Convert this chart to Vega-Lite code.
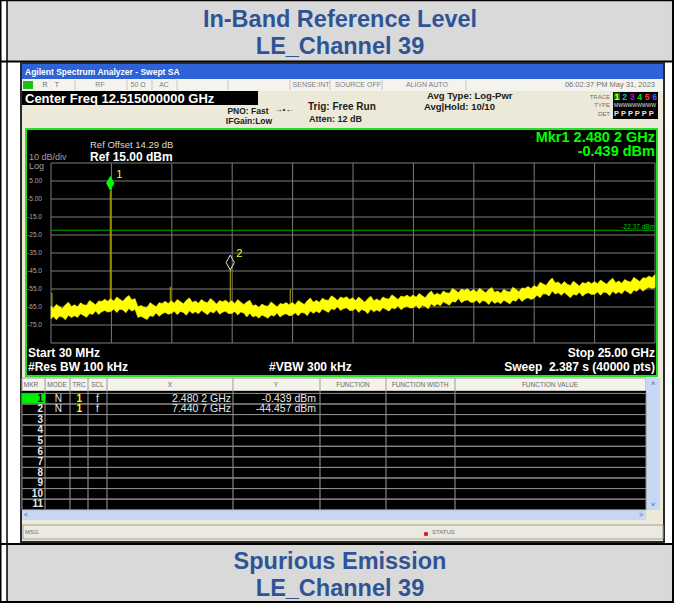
{
"$schema":"https://vega.github.io/schema/vega-lite/v6.json",
"width":604,"height":180,
"autosize":{"type":"none"},
"padding":{"left":51,"top":163,"right":19,"bottom":260},
"background":"#ffffff",
"config":{"view":{"stroke":null},"font":"Liberation Sans","axisX":{"disable":true},"text":{"baseline":"middle","font":"Liberation Sans"}},
"datasets":{
"trace":[
{"f":0.03,"lo":-71.6,"hi":-64.5},{"f":0.125,"lo":-70.3,"hi":-65.8},{"f":0.25,"lo":-72.1,"hi":-63.6},{"f":0.375,"lo":-70.2,"hi":-64.7},{"f":0.5,"lo":-70.6,"hi":-65.8},{"f":0.625,"lo":-72.1,"hi":-63.8},{"f":0.75,"lo":-69.6,"hi":-62.4},{"f":0.875,"lo":-70.9,"hi":-64.7},{"f":1.0,"lo":-69.8,"hi":-63.8},{"f":1.125,"lo":-70.8,"hi":-64.9},
{"f":1.25,"lo":-68.7,"hi":-62.7},{"f":1.375,"lo":-69.7,"hi":-63.7},{"f":1.5,"lo":-70.7,"hi":-64.0},{"f":1.625,"lo":-68.6,"hi":-61.4},{"f":1.75,"lo":-69.1,"hi":-62.5},{"f":1.875,"lo":-67.2,"hi":-63.8},{"f":2.0,"lo":-69.2,"hi":-61.6},{"f":2.125,"lo":-67.7,"hi":-61.9},{"f":2.25,"lo":-66.9,"hi":-60.7},{"f":2.375,"lo":-67.8,"hi":-61.8},
{"f":2.5,"lo":-67.5,"hi":-60.4},{"f":2.625,"lo":-66.2,"hi":-61.7},{"f":2.75,"lo":-68.0,"hi":-59.5},{"f":2.875,"lo":-66.2,"hi":-60.7},{"f":3.0,"lo":-66.6,"hi":-61.8},{"f":3.125,"lo":-68.2,"hi":-59.9},{"f":3.25,"lo":-65.8,"hi":-58.6},{"f":3.375,"lo":-67.3,"hi":-61.1},{"f":3.5,"lo":-66.3,"hi":-60.3},{"f":3.625,"lo":-70.8,"hi":-64.9},
{"f":3.75,"lo":-70.1,"hi":-64.1},{"f":3.875,"lo":-71.1,"hi":-65.1},{"f":4.0,"lo":-72.0,"hi":-65.3},{"f":4.125,"lo":-69.8,"hi":-62.6},{"f":4.25,"lo":-70.3,"hi":-63.7},{"f":4.375,"lo":-68.3,"hi":-64.9},{"f":4.5,"lo":-70.2,"hi":-62.6},{"f":4.625,"lo":-68.8,"hi":-63.0},{"f":4.75,"lo":-68.0,"hi":-61.8},{"f":4.875,"lo":-69.0,"hi":-63.0},
{"f":5.0,"lo":-68.6,"hi":-61.5},{"f":5.125,"lo":-67.4,"hi":-62.9},{"f":5.25,"lo":-69.3,"hi":-60.8},{"f":5.375,"lo":-67.5,"hi":-62.0},{"f":5.5,"lo":-68.0,"hi":-63.2},{"f":5.625,"lo":-69.6,"hi":-61.3},{"f":5.75,"lo":-67.1,"hi":-59.9},{"f":5.875,"lo":-68.6,"hi":-62.4},{"f":6.0,"lo":-67.6,"hi":-61.6},{"f":6.125,"lo":-68.8,"hi":-62.9},
{"f":6.25,"lo":-66.9,"hi":-60.9},{"f":6.375,"lo":-68.1,"hi":-62.1},{"f":6.5,"lo":-69.3,"hi":-62.6},{"f":6.625,"lo":-67.5,"hi":-60.3},{"f":6.75,"lo":-68.3,"hi":-61.7},{"f":6.875,"lo":-66.7,"hi":-63.3},{"f":7.0,"lo":-69.0,"hi":-61.4},{"f":7.125,"lo":-67.9,"hi":-62.1},{"f":7.25,"lo":-67.4,"hi":-61.2},{"f":7.375,"lo":-68.7,"hi":-62.7},
{"f":7.5,"lo":-68.6,"hi":-61.5},{"f":7.625,"lo":-67.5,"hi":-63.0},{"f":7.75,"lo":-69.4,"hi":-60.9},{"f":7.875,"lo":-67.8,"hi":-62.3},{"f":8.0,"lo":-68.4,"hi":-63.6},{"f":8.125,"lo":-70.5,"hi":-62.2},{"f":8.25,"lo":-68.5,"hi":-61.3},{"f":8.375,"lo":-70.5,"hi":-64.3},{"f":8.5,"lo":-69.8,"hi":-63.8},{"f":8.625,"lo":-71.2,"hi":-65.3},
{"f":8.75,"lo":-69.4,"hi":-63.4},{"f":8.875,"lo":-70.3,"hi":-64.3},{"f":9.0,"lo":-71.3,"hi":-64.6},{"f":9.125,"lo":-69.4,"hi":-62.2},{"f":9.25,"lo":-70.1,"hi":-63.5},{"f":9.375,"lo":-68.4,"hi":-65.0},{"f":9.5,"lo":-70.6,"hi":-63.0},{"f":9.625,"lo":-69.3,"hi":-63.5},{"f":9.75,"lo":-68.7,"hi":-62.5},{"f":9.875,"lo":-69.8,"hi":-63.8},
{"f":10.0,"lo":-69.6,"hi":-62.5},{"f":10.125,"lo":-68.2,"hi":-63.7},{"f":10.25,"lo":-69.9,"hi":-61.4},{"f":10.375,"lo":-68.0,"hi":-62.5},{"f":10.5,"lo":-68.4,"hi":-63.6},{"f":10.625,"lo":-69.8,"hi":-61.5},{"f":10.75,"lo":-67.2,"hi":-60.0},{"f":10.875,"lo":-68.5,"hi":-62.3},{"f":11.0,"lo":-67.3,"hi":-61.3},{"f":11.125,"lo":-68.3,"hi":-62.4},
{"f":11.25,"lo":-66.1,"hi":-60.1},{"f":11.375,"lo":-67.1,"hi":-61.1},{"f":11.5,"lo":-68.0,"hi":-61.3},{"f":11.625,"lo":-66.0,"hi":-58.8},{"f":11.75,"lo":-66.5,"hi":-59.9},{"f":11.875,"lo":-64.8,"hi":-61.4},{"f":12.0,"lo":-67.0,"hi":-59.4},{"f":12.125,"lo":-65.9,"hi":-60.1},{"f":12.25,"lo":-65.5,"hi":-59.3},{"f":12.375,"lo":-66.9,"hi":-60.9},
{"f":12.5,"lo":-66.9,"hi":-59.8},{"f":12.625,"lo":-65.9,"hi":-61.4},{"f":12.75,"lo":-68.0,"hi":-59.5},{"f":12.875,"lo":-66.4,"hi":-60.9},{"f":13.0,"lo":-67.1,"hi":-62.3},{"f":13.125,"lo":-68.7,"hi":-60.4},{"f":13.25,"lo":-66.2,"hi":-59.0},{"f":13.375,"lo":-67.7,"hi":-61.5},{"f":13.5,"lo":-66.6,"hi":-60.6},{"f":13.625,"lo":-67.5,"hi":-61.6},
{"f":13.75,"lo":-65.4,"hi":-59.4},{"f":13.875,"lo":-66.3,"hi":-60.3},{"f":14.0,"lo":-67.3,"hi":-60.6},{"f":14.125,"lo":-65.4,"hi":-58.2},{"f":14.25,"lo":-66.1,"hi":-59.5},{"f":14.375,"lo":-64.3,"hi":-60.9},{"f":14.5,"lo":-66.5,"hi":-58.9},{"f":14.625,"lo":-65.2,"hi":-59.4},{"f":14.75,"lo":-64.6,"hi":-58.4},{"f":14.875,"lo":-65.6,"hi":-59.6},
{"f":15.0,"lo":-65.4,"hi":-58.3},{"f":15.125,"lo":-64.1,"hi":-59.6},{"f":15.25,"lo":-66.0,"hi":-57.5},{"f":15.375,"lo":-64.2,"hi":-58.7},{"f":15.5,"lo":-64.6,"hi":-59.8},{"f":15.625,"lo":-66.0,"hi":-57.7},{"f":15.75,"lo":-63.3,"hi":-56.1},{"f":15.875,"lo":-64.6,"hi":-58.4},{"f":16.0,"lo":-63.3,"hi":-57.3},{"f":16.125,"lo":-64.3,"hi":-58.4},
{"f":16.25,"lo":-62.1,"hi":-56.1},{"f":16.375,"lo":-63.1,"hi":-57.1},{"f":16.5,"lo":-64.0,"hi":-57.3},{"f":16.625,"lo":-61.9,"hi":-54.7},{"f":16.75,"lo":-62.3,"hi":-55.7},{"f":16.875,"lo":-60.3,"hi":-56.9},{"f":17.0,"lo":-62.6,"hi":-55.0},{"f":17.125,"lo":-61.5,"hi":-55.7},{"f":17.25,"lo":-61.1,"hi":-54.9},{"f":17.375,"lo":-62.4,"hi":-56.4},
{"f":17.5,"lo":-62.4,"hi":-55.3},{"f":17.625,"lo":-61.2,"hi":-56.7},{"f":17.75,"lo":-63.1,"hi":-54.6},{"f":17.875,"lo":-61.4,"hi":-55.9},{"f":18.0,"lo":-61.9,"hi":-57.1},{"f":18.125,"lo":-63.6,"hi":-55.3},{"f":18.25,"lo":-61.4,"hi":-54.2},{"f":18.375,"lo":-63.0,"hi":-56.8},{"f":18.5,"lo":-62.1,"hi":-56.1},{"f":18.625,"lo":-63.2,"hi":-57.3},
{"f":18.75,"lo":-61.2,"hi":-55.2},{"f":18.875,"lo":-62.2,"hi":-56.2},{"f":19.0,"lo":-63.3,"hi":-56.6},{"f":19.125,"lo":-61.2,"hi":-54.0},{"f":19.25,"lo":-61.8,"hi":-55.2},{"f":19.375,"lo":-59.9,"hi":-56.5},{"f":19.5,"lo":-62.0,"hi":-54.4},{"f":19.625,"lo":-60.5,"hi":-54.7},{"f":19.75,"lo":-59.8,"hi":-53.6},{"f":19.875,"lo":-60.8,"hi":-54.8},
{"f":20.0,"lo":-60.2,"hi":-53.1},{"f":20.125,"lo":-58.5,"hi":-54.0},{"f":20.25,"lo":-59.8,"hi":-51.3},{"f":20.375,"lo":-57.7,"hi":-52.2},{"f":20.5,"lo":-57.8,"hi":-53.0},{"f":20.625,"lo":-58.9,"hi":-50.6},{"f":20.75,"lo":-56.1,"hi":-48.9},{"f":20.875,"lo":-57.8,"hi":-51.6},{"f":21.0,"lo":-57.1,"hi":-51.1},{"f":21.125,"lo":-58.5,"hi":-52.6},
{"f":21.25,"lo":-56.9,"hi":-50.9},{"f":21.375,"lo":-58.3,"hi":-52.3},{"f":21.5,"lo":-59.8,"hi":-53.1},{"f":21.625,"lo":-57.9,"hi":-50.7},{"f":21.75,"lo":-58.5,"hi":-51.9},{"f":21.875,"lo":-56.8,"hi":-53.4},{"f":22.0,"lo":-59.0,"hi":-51.4},{"f":22.125,"lo":-57.7,"hi":-51.9},{"f":22.25,"lo":-57.1,"hi":-50.9},{"f":22.375,"lo":-58.1,"hi":-52.1},
{"f":22.5,"lo":-57.9,"hi":-50.8},{"f":22.625,"lo":-56.6,"hi":-52.1},{"f":22.75,"lo":-58.5,"hi":-50.0},{"f":22.875,"lo":-56.7,"hi":-51.2},{"f":23.0,"lo":-57.1,"hi":-52.3},{"f":23.125,"lo":-58.7,"hi":-50.4},{"f":23.25,"lo":-56.2,"hi":-49.0},{"f":23.375,"lo":-57.7,"hi":-51.5},{"f":23.5,"lo":-56.6,"hi":-50.6},{"f":23.625,"lo":-57.7,"hi":-51.8},
{"f":23.75,"lo":-55.7,"hi":-49.7},{"f":23.875,"lo":-56.7,"hi":-50.7},{"f":24.0,"lo":-57.8,"hi":-51.1},{"f":24.125,"lo":-55.7,"hi":-48.5},{"f":24.25,"lo":-56.3,"hi":-49.7},{"f":24.375,"lo":-54.3,"hi":-50.9},{"f":24.5,"lo":-56.3,"hi":-48.7},{"f":24.625,"lo":-54.8,"hi":-49.0},{"f":24.75,"lo":-54.0,"hi":-47.8},{"f":24.875,"lo":-54.7,"hi":-48.7},
{"f":25.0,"lo":-54.1,"hi":-47.0}
],
"spikes":[{"f":0.07,"base":-68,"peak":-57.2},{"f":2.4802,"base":-64,"peak":-0.439},{"f":4.96,"base":-65,"peak":-53.7},{"f":7.4407,"base":-65,"peak":-44.457},{"f":9.92,"base":-66,"peak":-55.2}],
"markers":[{"mkr":"1","f":2.4802,"y":-0.439},{"mkr":"2","f":7.4407,"y":-44.457}],
"gridx":[{"v":0.03},{"v":2.527},{"v":5.024},{"v":7.521},{"v":10.018},{"v":12.515},{"v":15.012},{"v":17.509},{"v":20.006},{"v":22.503},{"v":25.0}],
"gridy":[{"v":15},{"v":5},{"v":-5},{"v":-15},{"v":-25},{"v":-35},{"v":-45},{"v":-55},{"v":-65},{"v":-75},{"v":-85}],
"ylab":[{"v":5,"label":"5.00"},{"v":-5,"label":"-5.00"},{"v":-15,"label":"-15.0"},{"v":-25,"label":"-25.0"},{"v":-35,"label":"-35.0"},{"v":-45,"label":"-45.0"},{"v":-55,"label":"-55.0"},{"v":-65,"label":"-65.0"},{"v":-75,"label":"-75.0"}],
"ssep":[{"v":1.022},{"v":3.172},{"v":4.205},{"v":5.239},{"v":7.347},{"v":9.91},{"v":11.564},{"v":13.714},{"v":17.186}],
"tcol":[{"v":-0.218},{"v":0.815},{"v":1.56},{"v":2.345},{"v":7.554},{"v":11.151},{"v":13.879},{"v":16.732}],
"rows":[{"mkr":1,"mode":"N","trc":"1","scl":"f","xv":"2.480 2 GHz","yv":"-0.439 dBm"},{"mkr":2,"mode":"N","trc":"1","scl":"f","xv":"7.440 7 GHz","yv":"-44.457 dBm"},{"mkr":3},{"mkr":4},{"mkr":5},{"mkr":6},{"mkr":7},{"mkr":8},{"mkr":9},{"mkr":10},{"mkr":11}]
},
"resolve":{"scale":{"y":"independent"}},
"layer":[
{"layer":[
{"data":{"values":[{}]},"mark":{"type":"rect","fill":"#d9d9d9"},"encoding":{"x":{"datum":-1.789,"type":"quantitative","scale":{"domain":[0.03,25],"nice":false,"zero":false}},"x2":{"datum":25.703},"y":{"datum":105.556,"type":"quantitative","scale":{"domain":[-85,15],"nice":false,"zero":false},"axis":null},"y2":{"datum":71.667}}},
{"data":{"values":[{}]},"mark":{"type":"rect","fill":"#d9d9d9"},"encoding":{"x":{"datum":-1.789,"type":"quantitative"},"x2":{"datum":25.703},"y":{"datum":-197.222,"type":"quantitative","axis":null},"y2":{"datum":-229.444}}},
{"data":{"values":[{}]},"mark":{"type":"rule","color":"#000000","strokeWidth":1.5},"encoding":{"x":{"datum":-2.078,"type":"quantitative"},"x2":{"datum":25.785},"y":{"datum":105.278,"type":"quantitative","axis":null}}},
{"data":{"values":[{}]},"mark":{"type":"rule","color":"#000000","strokeWidth":2},"encoding":{"x":{"datum":-2.078,"type":"quantitative"},"x2":{"datum":25.785},"y":{"datum":71.389,"type":"quantitative","axis":null}}},
{"data":{"values":[{}]},"mark":{"type":"rule","color":"#000000","strokeWidth":2},"encoding":{"x":{"datum":-2.078,"type":"quantitative"},"x2":{"datum":25.785},"y":{"datum":-196.667,"type":"quantitative","axis":null}}},
{"data":{"values":[{}]},"mark":{"type":"rule","color":"#000000","strokeWidth":2},"encoding":{"x":{"datum":-2.078,"type":"quantitative"},"x2":{"datum":25.785},"y":{"datum":-228.889,"type":"quantitative","axis":null}}},
{"data":{"values":[{}]},"mark":{"type":"rule","color":"#000000","strokeWidth":1.5},"encoding":{"x":{"datum":-2.047,"type":"quantitative"},"y":{"datum":105.556,"type":"quantitative","axis":null},"y2":{"datum":-229.444}}},
{"data":{"values":[{}]},"mark":{"type":"rule","color":"#000000","strokeWidth":1.5},"encoding":{"x":{"datum":-1.789,"type":"quantitative"},"y":{"datum":105.556,"type":"quantitative","axis":null},"y2":{"datum":-229.444}}},
{"data":{"values":[{}]},"mark":{"type":"rule","color":"#000000","strokeWidth":2},"encoding":{"x":{"datum":25.744,"type":"quantitative"},"y":{"datum":105.556,"type":"quantitative","axis":null},"y2":{"datum":-229.444}}},
{"data":{"values":[{}]},"mark":{"type":"text","text":"In-Band Reference Level","align":"center","fontSize":23.5,"fontWeight":"bold","color":"#2f5496"},"encoding":{"x":{"datum":11.978,"type":"quantitative"},"y":{"datum":94.722,"type":"quantitative","axis":null}}},
{"data":{"values":[{}]},"mark":{"type":"text","text":"LE_Channel 39","align":"center","fontSize":23.5,"fontWeight":"bold","color":"#2f5496"},"encoding":{"x":{"datum":11.978,"type":"quantitative"},"y":{"datum":79.722,"type":"quantitative","axis":null}}},
{"data":{"values":[{}]},"mark":{"type":"text","text":"Spurious Emission","align":"center","fontSize":23.5,"fontWeight":"bold","color":"#2f5496"},"encoding":{"x":{"datum":11.978,"type":"quantitative"},"y":{"datum":-206.389,"type":"quantitative","axis":null}}},
{"data":{"values":[{}]},"mark":{"type":"text","text":"LE_Channel 39","align":"center","fontSize":23.5,"fontWeight":"bold","color":"#2f5496"},"encoding":{"x":{"datum":11.978,"type":"quantitative"},"y":{"datum":-221.389,"type":"quantitative","axis":null}}},
{"data":{"values":[{}]},"mark":{"type":"rect","fill":"#ece9d8","stroke":"#2a2a2a","strokeWidth":2},"encoding":{"x":{"datum":-1.21,"type":"quantitative"},"x2":{"datum":25.372},"y":{"datum":70.556,"type":"quantitative","axis":null},"y2":{"datum":-195.556}}},
{"data":{"values":[{}]},"mark":{"type":"rect","fill":"#2d62d8"},"encoding":{"x":{"datum":-1.169,"type":"quantitative"},"x2":{"datum":25.331},"y":{"datum":70.0,"type":"quantitative","axis":null},"y2":{"datum":61.667}}},
{"data":{"values":[{}]},"mark":{"type":"text","text":"Agilent Spectrum Analyzer - Swept SA","align":"left","fontSize":8.5,"fontWeight":"bold","color":"#ffffff"},"encoding":{"x":{"datum":-1.045,"type":"quantitative"},"y":{"datum":65.278,"type":"quantitative","axis":null}}},
{"data":{"values":[{}]},"mark":{"type":"rect","fill":"#f4f3ee"},"encoding":{"x":{"datum":-1.169,"type":"quantitative"},"x2":{"datum":25.331},"y":{"datum":61.667,"type":"quantitative","axis":null},"y2":{"datum":55.0}}},
{"data":{"name":"ssep"},"mark":{"type":"rule","color":"#c4c4c4","strokeWidth":1},"encoding":{"x":{"field":"v","type":"quantitative"},"y":{"datum":61.111,"type":"quantitative","axis":null},"y2":{"datum":55.556}}},
{"data":{"values":[{}]},"mark":{"type":"rect","fill":"#18c018"},"encoding":{"x":{"datum":-1.128,"type":"quantitative"},"x2":{"datum":-0.714},"y":{"datum":60.556,"type":"quantitative","axis":null},"y2":{"datum":56.111}}},
{"data":{"values":[{}]},"mark":{"type":"text","text":"R","align":"center","fontSize":7,"color":"#707070"},"encoding":{"x":{"datum":-0.218,"type":"quantitative"},"y":{"datum":58.056,"type":"quantitative","axis":null}}},
{"data":{"values":[{}]},"mark":{"type":"text","text":"T","align":"center","fontSize":7,"color":"#707070"},"encoding":{"x":{"datum":0.278,"type":"quantitative"},"y":{"datum":58.056,"type":"quantitative","axis":null}}},
{"data":{"values":[{}]},"mark":{"type":"text","text":"RF","align":"center","fontSize":7,"color":"#808080"},"encoding":{"x":{"datum":2.056,"type":"quantitative"},"y":{"datum":58.056,"type":"quantitative","axis":null}}},
{"data":{"values":[{}]},"mark":{"type":"text","text":"50 Ω","align":"center","fontSize":7,"color":"#808080"},"encoding":{"x":{"datum":3.627,"type":"quantitative"},"y":{"datum":58.056,"type":"quantitative","axis":null}}},
{"data":{"values":[{}]},"mark":{"type":"text","text":"AC","align":"center","fontSize":7,"color":"#808080"},"encoding":{"x":{"datum":4.702,"type":"quantitative"},"y":{"datum":58.056,"type":"quantitative","axis":null}}},
{"data":{"values":[{}]},"mark":{"type":"text","text":"SENSE:INT","align":"center","fontSize":7,"color":"#808080"},"encoding":{"x":{"datum":10.779,"type":"quantitative"},"y":{"datum":58.056,"type":"quantitative","axis":null}}},
{"data":{"values":[{}]},"mark":{"type":"text","text":"SOURCE OFF","align":"center","fontSize":7,"color":"#808080"},"encoding":{"x":{"datum":12.722,"type":"quantitative"},"y":{"datum":58.056,"type":"quantitative","axis":null}}},
{"data":{"values":[{}]},"mark":{"type":"text","text":"ALIGN AUTO","align":"center","fontSize":7,"color":"#808080"},"encoding":{"x":{"datum":15.574,"type":"quantitative"},"y":{"datum":58.056,"type":"quantitative","axis":null}}},
{"data":{"values":[{}]},"mark":{"type":"text","text":"06:02:37 PM May 31, 2023","align":"right","fontSize":7.5,"color":"#707070"},"encoding":{"x":{"datum":25.0,"type":"quantitative"},"y":{"datum":58.056,"type":"quantitative","axis":null}}},
{"data":{"values":[{}]},"mark":{"type":"rect","fill":"#000000"},"encoding":{"x":{"datum":-1.169,"type":"quantitative"},"x2":{"datum":8.588},"y":{"datum":55.0,"type":"quantitative","axis":null},"y2":{"datum":47.222}}},
{"data":{"values":[{}]},"mark":{"type":"text","text":"Center Freq 12.515000000 GHz","align":"left","fontSize":13,"fontWeight":"bold","color":"#ffffff"},"encoding":{"x":{"datum":-1.045,"type":"quantitative"},"y":{"datum":50.833,"type":"quantitative","axis":null}}},
{"data":{"values":[{}]},"mark":{"type":"text","text":"PNO: Fast","align":"center","fontSize":8.5,"fontWeight":"bold","color":"#202020"},"encoding":{"x":{"datum":8.174,"type":"quantitative"},"y":{"datum":43.889,"type":"quantitative","axis":null}}},
{"data":{"values":[{}]},"mark":{"type":"text","text":"IFGain:Low","align":"center","fontSize":8.5,"fontWeight":"bold","color":"#202020"},"encoding":{"x":{"datum":8.216,"type":"quantitative"},"y":{"datum":38.611,"type":"quantitative","axis":null}}},
{"data":{"values":[{}]},"mark":{"type":"text","text":"→•←","align":"center","fontSize":8,"color":"#202020"},"encoding":{"x":{"datum":9.662,"type":"quantitative"},"y":{"datum":44.167,"type":"quantitative","axis":null}}},
{"data":{"values":[{}]},"mark":{"type":"text","text":"Trig: Free Run","align":"left","fontSize":10,"fontWeight":"bold","color":"#202020"},"encoding":{"x":{"datum":10.655,"type":"quantitative"},"y":{"datum":46.111,"type":"quantitative","axis":null}}},
{"data":{"values":[{}]},"mark":{"type":"text","text":"Atten: 12 dB","align":"left","fontSize":9,"fontWeight":"bold","color":"#202020"},"encoding":{"x":{"datum":10.696,"type":"quantitative"},"y":{"datum":39.444,"type":"quantitative","axis":null}}},
{"data":{"values":[{}]},"mark":{"type":"text","text":"Avg Type: Log-Pwr","align":"left","fontSize":9.5,"fontWeight":"bold","color":"#202020"},"encoding":{"x":{"datum":15.574,"type":"quantitative"},"y":{"datum":52.5,"type":"quantitative","axis":null}}},
{"data":{"values":[{}]},"mark":{"type":"text","text":"Avg|Hold: 10/10","align":"left","fontSize":9.5,"fontWeight":"bold","color":"#202020"},"encoding":{"x":{"datum":15.45,"type":"quantitative"},"y":{"datum":46.111,"type":"quantitative","axis":null}}},
{"data":{"values":[{}]},"mark":{"type":"rect","fill":"#000000"},"encoding":{"x":{"datum":23.263,"type":"quantitative"},"x2":{"datum":25.124},"y":{"datum":54.444,"type":"quantitative","axis":null},"y2":{"datum":39.444}}},
{"data":{"values":[{}]},"mark":{"type":"rect","fill":"#0a7a0a"},"encoding":{"x":{"datum":23.305,"type":"quantitative"},"x2":{"datum":23.553},"y":{"datum":54.167,"type":"quantitative","axis":null},"y2":{"datum":50.0}}},
{"data":{"values":[{}]},"mark":{"type":"text","text":"TRACE","align":"right","fontSize":6,"color":"#707070"},"encoding":{"x":{"datum":23.14,"type":"quantitative"},"y":{"datum":51.944,"type":"quantitative","axis":null}}},
{"data":{"values":[{}]},"mark":{"type":"text","text":"TYPE","align":"right","fontSize":6,"color":"#707070"},"encoding":{"x":{"datum":23.14,"type":"quantitative"},"y":{"datum":47.222,"type":"quantitative","axis":null}}},
{"data":{"values":[{}]},"mark":{"type":"text","text":"DET","align":"right","fontSize":6,"color":"#707070"},"encoding":{"x":{"datum":23.14,"type":"quantitative"},"y":{"datum":42.5,"type":"quantitative","axis":null}}},
{"data":{"values":[{}]},"mark":{"type":"text","text":"1","align":"center","fontSize":8.5,"fontWeight":"bold","color":"#ffff00"},"encoding":{"x":{"datum":23.428,"type":"quantitative"},"y":{"datum":51.944,"type":"quantitative","axis":null}}},
{"data":{"values":[{}]},"mark":{"type":"text","text":"2","align":"center","fontSize":8.5,"fontWeight":"bold","color":"#00c8c8"},"encoding":{"x":{"datum":23.739,"type":"quantitative"},"y":{"datum":51.944,"type":"quantitative","axis":null}}},
{"data":{"values":[{}]},"mark":{"type":"text","text":"3","align":"center","fontSize":8.5,"fontWeight":"bold","color":"#c800c8"},"encoding":{"x":{"datum":24.049,"type":"quantitative"},"y":{"datum":51.944,"type":"quantitative","axis":null}}},
{"data":{"values":[{}]},"mark":{"type":"text","text":"4","align":"center","fontSize":8.5,"fontWeight":"bold","color":"#00e000"},"encoding":{"x":{"datum":24.359,"type":"quantitative"},"y":{"datum":51.944,"type":"quantitative","axis":null}}},
{"data":{"values":[{}]},"mark":{"type":"text","text":"5","align":"center","fontSize":8.5,"fontWeight":"bold","color":"#ff3c3c"},"encoding":{"x":{"datum":24.669,"type":"quantitative"},"y":{"datum":51.944,"type":"quantitative","axis":null}}},
{"data":{"values":[{}]},"mark":{"type":"text","text":"6","align":"center","fontSize":8.5,"fontWeight":"bold","color":"#5a5aff"},"encoding":{"x":{"datum":24.979,"type":"quantitative"},"y":{"datum":51.944,"type":"quantitative","axis":null}}},
{"data":{"values":[{}]},"mark":{"type":"text","text":"MWWWWWWWW","align":"left","fontSize":5,"color":"#e0e0e0"},"encoding":{"x":{"datum":23.305,"type":"quantitative"},"y":{"datum":47.222,"type":"quantitative","axis":null}}},
{"data":{"values":[{}]},"mark":{"type":"text","text":"P P P P P P","align":"left","fontSize":7.5,"fontWeight":"bold","color":"#e8e8e8"},"encoding":{"x":{"datum":23.305,"type":"quantitative"},"y":{"datum":42.5,"type":"quantitative","axis":null}}},
{"data":{"values":[{}]},"mark":{"type":"rect","fill":"#000000","stroke":"#22e022","strokeWidth":2},"encoding":{"x":{"datum":-1.004,"type":"quantitative"},"x2":{"datum":25.083},"y":{"datum":33.889,"type":"quantitative","axis":null},"y2":{"datum":-103.333}}},
{"data":{"name":"gridx"},"mark":{"type":"rule","color":"#7c7c7c","strokeWidth":1},"encoding":{"x":{"field":"v","type":"quantitative"},"y":{"datum":-85,"type":"quantitative","axis":null},"y2":{"datum":15}}},
{"data":{"name":"gridy"},"mark":{"type":"rule","color":"#7c7c7c","strokeWidth":1},"encoding":{"y":{"field":"v","type":"quantitative","axis":null},"x":{"datum":0.03,"type":"quantitative"},"x2":{"datum":25.0}}},
{"data":{"name":"ylab"},"mark":{"type":"text","align":"right","fontSize":6.5,"color":"#a8a8a8"},"encoding":{"y":{"field":"v","type":"quantitative","axis":null},"x":{"datum":-0.342,"type":"quantitative"},"text":{"field":"label"}}},
{"data":{"values":[{"ref":-22.37}]},"mark":{"type":"rule","color":"#00a800","strokeWidth":1},"encoding":{"y":{"field":"ref","type":"quantitative","axis":null},"x":{"datum":0.03,"type":"quantitative"},"x2":{"datum":25.0}}},
{"data":{"values":[{}]},"mark":{"type":"text","text":"-22.37 dBm","align":"right","fontSize":6.5,"color":"#00c000"},"encoding":{"x":{"datum":25.0,"type":"quantitative"},"y":{"datum":-20.833,"type":"quantitative","axis":null}}},
{"data":{"name":"spikes"},"mark":{"type":"rule","color":"#c0ac00","strokeWidth":1},"encoding":{"x":{"field":"f","type":"quantitative"},"y":{"field":"peak","type":"quantitative","axis":null},"y2":{"field":"base"}}},
{"data":{"name":"trace"},"mark":{"type":"area","color":"#ffff00","stroke":"#f4f400","strokeWidth":0.6,"opacity":1},"encoding":{"x":{"field":"f","type":"quantitative"},"y":{"field":"lo","type":"quantitative","axis":null},"y2":{"field":"hi"}}},
{"data":{"name":"markers"},"transform":[{"filter":"datum.mkr == '1'"}],"mark":{"type":"point","shape":"M0,0L0.55,-1L0,-2L-0.55,-1Z","size":225,"filled":true,"color":"#00ff00","opacity":1},"encoding":{"x":{"field":"f","type":"quantitative"},"y":{"field":"y","type":"quantitative","axis":null}}},
{"data":{"name":"markers"},"transform":[{"filter":"datum.mkr == '2'"}],"mark":{"type":"point","shape":"M0,0L0.55,-1L0,-2L-0.55,-1Z","size":225,"filled":false,"color":"#e8e8e8","strokeWidth":1,"opacity":1},"encoding":{"x":{"field":"f","type":"quantitative"},"y":{"field":"y","type":"quantitative","axis":null}}},
{"data":{"name":"markers"},"mark":{"type":"text","color":"#ffff00","fontSize":11,"align":"left","dx":6,"dy":-16},"encoding":{"x":{"field":"f","type":"quantitative"},"y":{"field":"y","type":"quantitative","axis":null},"text":{"field":"mkr"}}},
{"data":{"values":[{}]},"mark":{"type":"text","text":"Ref Offset 14.29 dB","align":"left","fontSize":9.5,"color":"#dcdcdc"},"encoding":{"x":{"datum":1.642,"type":"quantitative"},"y":{"datum":25.0,"type":"quantitative","axis":null}}},
{"data":{"values":[{}]},"mark":{"type":"text","text":"Ref 15.00 dBm","align":"left","fontSize":12,"fontWeight":"bold","color":"#ffffff"},"encoding":{"x":{"datum":1.642,"type":"quantitative"},"y":{"datum":18.333,"type":"quantitative","axis":null}}},
{"data":{"values":[{}]},"mark":{"type":"text","text":"10 dB/div","align":"left","fontSize":9,"color":"#a0a0a0"},"encoding":{"x":{"datum":-0.88,"type":"quantitative"},"y":{"datum":18.611,"type":"quantitative","axis":null}}},
{"data":{"values":[{}]},"mark":{"type":"text","text":"Log","align":"left","fontSize":9,"color":"#a0a0a0"},"encoding":{"x":{"datum":-0.88,"type":"quantitative"},"y":{"datum":13.333,"type":"quantitative","axis":null}}},
{"data":{"values":[{}]},"mark":{"type":"text","text":"Mkr1 2.480 2 GHz","align":"right","fontSize":14.5,"fontWeight":"bold","color":"#00ff00"},"encoding":{"x":{"datum":25.0,"type":"quantitative"},"y":{"datum":29.0,"type":"quantitative","axis":null}}},
{"data":{"values":[{}]},"mark":{"type":"text","text":"-0.439 dBm","align":"right","fontSize":14.5,"fontWeight":"bold","color":"#00ff00"},"encoding":{"x":{"datum":25.0,"type":"quantitative"},"y":{"datum":20.944,"type":"quantitative","axis":null}}},
{"data":{"values":[{}]},"mark":{"type":"text","text":"Start 30 MHz","align":"left","fontSize":12,"fontWeight":"bold","color":"#ffffff"},"encoding":{"x":{"datum":-0.921,"type":"quantitative"},"y":{"datum":-90.389,"type":"quantitative","axis":null}}},
{"data":{"values":[{}]},"mark":{"type":"text","text":"#Res BW 100 kHz","align":"left","fontSize":12,"fontWeight":"bold","color":"#ffffff"},"encoding":{"x":{"datum":-0.921,"type":"quantitative"},"y":{"datum":-98.167,"type":"quantitative","axis":null}}},
{"data":{"values":[{}]},"mark":{"type":"text","text":"#VBW 300 kHz","align":"left","fontSize":12,"fontWeight":"bold","color":"#ffffff"},"encoding":{"x":{"datum":9.042,"type":"quantitative"},"y":{"datum":-98.167,"type":"quantitative","axis":null}}},
{"data":{"values":[{}]},"mark":{"type":"text","text":"Stop 25.00 GHz","align":"right","fontSize":12,"fontWeight":"bold","color":"#ffffff"},"encoding":{"x":{"datum":25.0,"type":"quantitative"},"y":{"datum":-90.389,"type":"quantitative","axis":null}}},
{"data":{"values":[{}]},"mark":{"type":"text","text":"Sweep\u00a0\u00a02.387 s (40000 pts)","align":"right","fontSize":12,"fontWeight":"bold","color":"#ffffff"},"encoding":{"x":{"datum":25.0,"type":"quantitative"},"y":{"datum":-98.167,"type":"quantitative","axis":null}}},
{"data":{"values":[{}]},"mark":{"type":"rect","fill":"#f4f2ea","stroke":"#a0a0a0","strokeWidth":1},"encoding":{"x":{"datum":-1.169,"type":"quantitative"},"x2":{"datum":24.628},"y":{"datum":-104.444,"type":"quantitative","axis":null},"y2":{"datum":-111.667}}},
{"data":{"values":[{}]},"mark":{"type":"rect","fill":"#000000"},"encoding":{"x":{"datum":-1.169,"type":"quantitative"},"x2":{"datum":24.628},"y":{"datum":-111.667,"type":"quantitative","axis":null},"y2":{"datum":-177.778}}},
{"data":{"values":[{}]},"mark":{"type":"rect","fill":"#c8d8f4"},"encoding":{"x":{"datum":24.628,"type":"quantitative"},"x2":{"datum":25.207},"y":{"datum":-104.444,"type":"quantitative","axis":null},"y2":{"datum":-177.778}}},
{"data":{"values":[{}]},"mark":{"type":"rect","fill":"#c8d8f4"},"encoding":{"x":{"datum":-1.169,"type":"quantitative"},"x2":{"datum":24.628},"y":{"datum":-177.778,"type":"quantitative","axis":null},"y2":{"datum":-183.333}}},
{"data":{"values":[{}]},"mark":{"type":"text","text":"˄","align":"center","fontSize":8,"color":"#4060a0"},"encoding":{"x":{"datum":24.917,"type":"quantitative"},"y":{"datum":-107.778,"type":"quantitative","axis":null}}},
{"data":{"values":[{}]},"mark":{"type":"text","text":"˅","align":"center","fontSize":8,"color":"#4060a0"},"encoding":{"x":{"datum":24.917,"type":"quantitative"},"y":{"datum":-175.0,"type":"quantitative","axis":null}}},
{"data":{"values":[{}]},"mark":{"type":"text","text":"<","align":"center","fontSize":7,"color":"#4060a0"},"encoding":{"x":{"datum":-1.004,"type":"quantitative"},"y":{"datum":-180.556,"type":"quantitative","axis":null}}},
{"data":{"values":[{}]},"mark":{"type":"text","text":">","align":"center","fontSize":7,"color":"#4060a0"},"encoding":{"x":{"datum":24.421,"type":"quantitative"},"y":{"datum":-180.556,"type":"quantitative","axis":null}}},
{"data":{"name":"tcol"},"mark":{"type":"rule","color":"#9a9a9a","strokeWidth":1},"encoding":{"x":{"field":"v","type":"quantitative"},"y":{"datum":-104.444,"type":"quantitative","axis":null},"y2":{"datum":-177.778}}},
{"data":{"values":[{}]},"mark":{"type":"text","text":"MKR","align":"center","fontSize":6.5,"color":"#6a6a6a"},"encoding":{"x":{"datum":-0.797,"type":"quantitative"},"y":{"datum":-108.056,"type":"quantitative","axis":null}}},
{"data":{"values":[{}]},"mark":{"type":"text","text":"MODE","align":"center","fontSize":6.5,"color":"#6a6a6a"},"encoding":{"x":{"datum":0.278,"type":"quantitative"},"y":{"datum":-108.056,"type":"quantitative","axis":null}}},
{"data":{"values":[{}]},"mark":{"type":"text","text":"TRC","align":"center","fontSize":6.5,"color":"#6a6a6a"},"encoding":{"x":{"datum":1.188,"type":"quantitative"},"y":{"datum":-108.056,"type":"quantitative","axis":null}}},
{"data":{"values":[{}]},"mark":{"type":"text","text":"SCL","align":"center","fontSize":6.5,"color":"#6a6a6a"},"encoding":{"x":{"datum":1.952,"type":"quantitative"},"y":{"datum":-108.056,"type":"quantitative","axis":null}}},
{"data":{"values":[{}]},"mark":{"type":"text","text":"X","align":"center","fontSize":6.5,"color":"#6a6a6a"},"encoding":{"x":{"datum":4.95,"type":"quantitative"},"y":{"datum":-108.056,"type":"quantitative","axis":null}}},
{"data":{"values":[{}]},"mark":{"type":"text","text":"Y","align":"center","fontSize":6.5,"color":"#6a6a6a"},"encoding":{"x":{"datum":9.332,"type":"quantitative"},"y":{"datum":-108.056,"type":"quantitative","axis":null}}},
{"data":{"values":[{}]},"mark":{"type":"text","text":"FUNCTION","align":"center","fontSize":6.5,"color":"#6a6a6a"},"encoding":{"x":{"datum":12.515,"type":"quantitative"},"y":{"datum":-108.056,"type":"quantitative","axis":null}}},
{"data":{"values":[{}]},"mark":{"type":"text","text":"FUNCTION WIDTH","align":"center","fontSize":6.5,"color":"#6a6a6a"},"encoding":{"x":{"datum":15.285,"type":"quantitative"},"y":{"datum":-108.056,"type":"quantitative","axis":null}}},
{"data":{"values":[{}]},"mark":{"type":"text","text":"FUNCTION VALUE","align":"center","fontSize":6.5,"color":"#6a6a6a"},"encoding":{"x":{"datum":20.659,"type":"quantitative"},"y":{"datum":-108.056,"type":"quantitative","axis":null}}},
{"data":{"values":[{}]},"mark":{"type":"rect","fill":"#ebe9e2","stroke":"#a0a0a0","strokeWidth":1},"encoding":{"x":{"datum":-1.128,"type":"quantitative"},"x2":{"datum":25.331},"y":{"datum":-186.111,"type":"quantitative","axis":null},"y2":{"datum":-193.889}}},
{"data":{"values":[{}]},"mark":{"type":"text","text":"MSG","align":"left","fontSize":6,"color":"#707070"},"encoding":{"x":{"datum":-1.045,"type":"quantitative"},"y":{"datum":-190.0,"type":"quantitative","axis":null}}},
{"data":{"values":[{}]},"mark":{"type":"circle","color":"#e02020","size":20,"opacity":1},"encoding":{"x":{"datum":15.533,"type":"quantitative"},"y":{"datum":-191.111,"type":"quantitative","axis":null}}},
{"data":{"values":[{}]},"mark":{"type":"text","text":"STATUS","align":"left","fontSize":6,"color":"#707070"},"encoding":{"x":{"datum":15.781,"type":"quantitative"},"y":{"datum":-190.0,"type":"quantitative","axis":null}}}
]},
{"layer":[
{"data":{"name":"rows"},"mark":{"type":"rect","filled":false,"stroke":"#8c8c8c","strokeWidth":1,"height":10.57},"encoding":{"x":{"datum":-1.169,"type":"quantitative"},"x2":{"datum":24.628},"y":{"field":"mkr","type":"quantitative","scale":{"domain":[-21.299,-4.27],"reverse":true,"nice":false,"zero":false},"axis":null}}},
{"data":{"name":"rows"},"transform":[{"filter":"datum.mkr == 1"}],"mark":{"type":"rect","fill":"#00ee00","height":9.5},"encoding":{"x":{"datum":-1.169,"type":"quantitative"},"x2":{"datum":-0.218},"y":{"field":"mkr","type":"quantitative","axis":null}}},
{"data":{"name":"rows"},"mark":{"type":"text","align":"right","fontSize":10,"fontWeight":"bold"},"encoding":{"x":{"datum":-0.301,"type":"quantitative"},"y":{"field":"mkr","type":"quantitative","axis":null},"text":{"field":"mkr"},"color":{"condition":{"test":"datum.mkr == 1","value":"#000000"},"value":"#e8e8e8"}}},
{"data":{"name":"rows"},"transform":[{"filter":"datum.mode"}],"mark":{"type":"text","align":"center","fontSize":10,"color":"#e8e8e8"},"encoding":{"x":{"datum":0.332,"type":"quantitative"},"y":{"field":"mkr","type":"quantitative","axis":null},"text":{"field":"mode"}}},
{"data":{"name":"rows"},"transform":[{"filter":"datum.trc"}],"mark":{"type":"text","align":"center","fontSize":10,"fontWeight":"bold","color":"#ffff00"},"encoding":{"x":{"datum":1.196,"type":"quantitative"},"y":{"field":"mkr","type":"quantitative","axis":null},"text":{"field":"trc"}}},
{"data":{"name":"rows"},"transform":[{"filter":"datum.scl"}],"mark":{"type":"text","align":"center","fontSize":10,"color":"#e8e8e8"},"encoding":{"x":{"datum":1.952,"type":"quantitative"},"y":{"field":"mkr","type":"quantitative","axis":null},"text":{"field":"scl"}}},
{"data":{"name":"rows"},"transform":[{"filter":"datum.xv"}],"mark":{"type":"text","align":"right","fontSize":10.5,"color":"#e8e8e8"},"encoding":{"x":{"datum":7.471,"type":"quantitative"},"y":{"field":"mkr","type":"quantitative","axis":null},"text":{"field":"xv"}}},
{"data":{"name":"rows"},"transform":[{"filter":"datum.yv"}],"mark":{"type":"text","align":"right","fontSize":10.5,"color":"#e8e8e8"},"encoding":{"x":{"datum":10.985,"type":"quantitative"},"y":{"field":"mkr","type":"quantitative","axis":null},"text":{"field":"yv"}}}
]}
]
}
